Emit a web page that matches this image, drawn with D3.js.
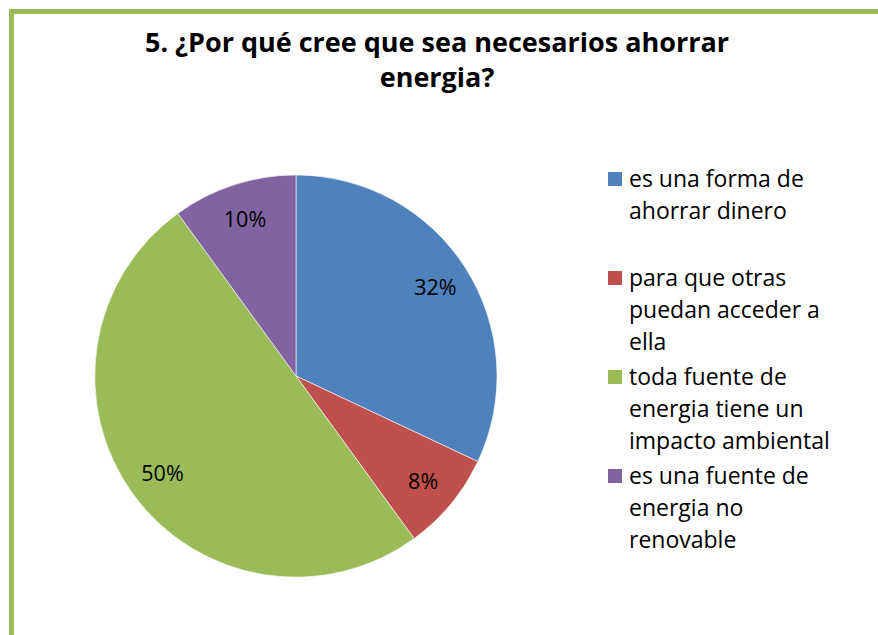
<!DOCTYPE html>
<html>
<head>
<meta charset="utf-8">
<script src="https://cdn.jsdelivr.net/npm/d3@7/dist/d3.min.js"></script>
<style>
  html, body { margin: 0; padding: 0; background: #fff; }
  svg { display: block; }
  text { font-family: "Open Sans", Lato, sans-serif; fill: #000; }
</style>
</head>
<body>
<svg id="chart" width="878" height="635"></svg>
<script>
// Survey answers and their shares (percent)
const categories = [
  "es una forma de ahorrar dinero",
  "para que otras puedan acceder a ella",
  "toda fuente de energia tiene un impacto ambiental",
  "es una fuente de energia no renovable"
];
const values = [32, 8, 50, 10];
const colors = ["#4f81bd", "#c0504d", "#9bbb59", "#8064a2"];
// Legend entries broken into lines as they wrap
const legendLines = [
  ["es una forma de", "ahorrar dinero"],
  ["para que otras", "puedan acceder a", "ella"],
  ["toda fuente de", "energia tiene un", "impacto ambiental"],
  ["es una fuente de", "energia no", "renovable"]
];
const titleLines = ["5. ¿Por qué cree que sea necesarios ahorrar", "energia?"];

const svg = d3.select("#chart");

// Outer frame
svg.append("rect")
  .attr("x", 11.5).attr("y", 11.5)
  .attr("width", 900).attr("height", 700)
  .attr("fill", "none")
  .attr("stroke", "#9bbb59")
  .attr("stroke-width", 5);

// Title
svg.append("g").selectAll("text")
  .data(titleLines)
  .join("text")
  .attr("x", 437)
  .attr("y", (d, i) => 52 + i * 35)
  .attr("text-anchor", "middle")
  .attr("font-size", 27)
  .attr("font-weight", "bold")
  .text(d => d);

// Pie
const cx = 296, cy = 376, r = 201;
const pie = d3.pie().sort(null).value(d => d)(values);
const arc = d3.arc().innerRadius(0).outerRadius(r);
const labelArc = d3.arc().innerRadius(165).outerRadius(165);

const g = svg.append("g").attr("transform", `translate(${cx},${cy})`);
g.selectAll("path")
  .data(pie)
  .join("path")
  .attr("d", arc)
  .attr("fill", (d, i) => colors[i])
  .attr("stroke", "#fff")
  .attr("stroke-width", 0.6);

g.selectAll("text.lbl")
  .data(pie)
  .join("text")
  .attr("class", "lbl")
  .attr("transform", d => `translate(${labelArc.centroid(d)})`)
  .attr("text-anchor", "middle")
  .attr("dy", "0.35em")
  .attr("font-size", 21.5)
  .text(d => d.data + "%");

// Legend
const legend = svg.append("g").attr("transform", "translate(608,172)");
const item = legend.selectAll("g")
  .data(categories)
  .join("g")
  .attr("transform", (d, i) => `translate(0,${i * 99})`);
item.append("rect")
  .attr("width", 14).attr("height", 14)
  .attr("fill", (d, i) => colors[i]);
item.each(function(d, i) {
  d3.select(this).selectAll("text")
    .data(legendLines[i])
    .join("text")
    .attr("x", 21)
    .attr("y", (t, j) => 15 + j * 32)
    .attr("font-size", 23)
    .text(t => t);
});
</script>
</body>
</html>
